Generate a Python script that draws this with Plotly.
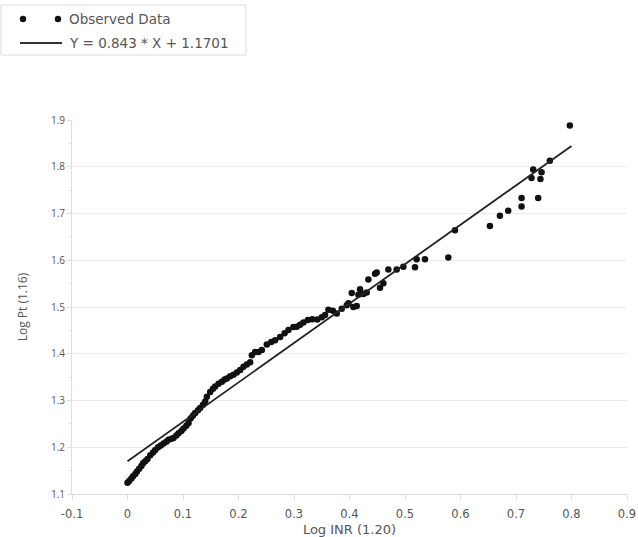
import plotly.graph_objects as go

# Observed log values
log_inr = [0.000, 0.003, 0.007, 0.010, 0.014, 0.017, 0.021, 0.025, 0.028, 0.032,
           0.036, 0.041, 0.046, 0.050, 0.055, 0.060, 0.065, 0.070, 0.074, 0.079,
           0.083, 0.088, 0.092, 0.097, 0.101, 0.106, 0.110, 0.114, 0.118, 0.122,
           0.127, 0.131, 0.136, 0.140, 0.143, 0.149, 0.154, 0.158, 0.164, 0.170,
           0.175, 0.179, 0.185, 0.191, 0.197, 0.203, 0.209, 0.215, 0.221, 0.224,
           0.230, 0.236, 0.242, 0.251, 0.259, 0.266, 0.275, 0.283, 0.290, 0.299,
           0.305, 0.311, 0.317, 0.325, 0.333, 0.342, 0.350, 0.356, 0.362, 0.370,
           0.377, 0.386, 0.395, 0.398, 0.404, 0.407, 0.413, 0.416, 0.419, 0.425,
           0.431, 0.434, 0.446, 0.449, 0.455, 0.461, 0.470, 0.485, 0.497, 0.518,
           0.521, 0.536, 0.578, 0.590, 0.653, 0.671, 0.686, 0.710, 0.710, 0.728,
           0.731, 0.740, 0.744, 0.746, 0.761, 0.797]
log_pt = [1.124, 1.128, 1.133, 1.138, 1.143, 1.148, 1.154, 1.160, 1.166, 1.170,
          1.175, 1.183, 1.189, 1.194, 1.200, 1.204, 1.208, 1.212, 1.216, 1.218,
          1.220, 1.225, 1.230, 1.235, 1.240, 1.246, 1.252, 1.262, 1.268, 1.273,
          1.279, 1.284, 1.291, 1.298, 1.308, 1.318, 1.325, 1.330, 1.336, 1.340,
          1.345, 1.347, 1.352, 1.355, 1.360, 1.365, 1.372, 1.377, 1.382, 1.397,
          1.404, 1.404, 1.408, 1.420, 1.425, 1.429, 1.436, 1.444, 1.451, 1.457,
          1.458, 1.462, 1.467, 1.472, 1.474, 1.473, 1.478, 1.483, 1.494, 1.492,
          1.486, 1.496, 1.504, 1.508, 1.530, 1.500, 1.502, 1.526, 1.538, 1.528,
          1.531, 1.559, 1.571, 1.574, 1.541, 1.551, 1.580, 1.580, 1.586, 1.585,
          1.602, 1.602, 1.606, 1.664, 1.673, 1.695, 1.706, 1.715, 1.733, 1.776,
          1.794, 1.733, 1.774, 1.788, 1.813, 1.888]

# Fitted regression line
slope = 0.843
intercept = 1.1701
fit_x = [0.0, 0.8]
fit_y = [slope * x + intercept for x in fit_x]

series_names = ["Observed Data", "Y = 0.843 * X + 1.1701"]

x_ticks = [-0.1, 0, 0.1, 0.2, 0.3, 0.4, 0.5, 0.6, 0.7, 0.8, 0.9]
x_tick_text = ["-0.1", "0", "0.1", "0.2", "0.3", "0.4", "0.5", "0.6", "0.7", "0.8", "0.9"]
y_ticks = [1.1, 1.2, 1.3, 1.4, 1.5, 1.6, 1.7, 1.8, 1.9]

wide_font = "DejaVu Sans, sans-serif"
tick_font = "Open Sans, DejaVu Sans, sans-serif"
text_color = "#555555"
mark_color = "#111111"

# plot-area geometry in pixels (used to place the key above the axes)
W, H = 638, 537
L, R, T, B = 72, 11, 120, 43
pw, ph = W - L - R, H - T - B


def px_x(px):
    return (px - L) / pw


def px_y(py):
    return (H - B - py) / ph


fig = go.Figure()
fig.add_trace(go.Scatter(
    x=log_inr, y=log_pt, mode="markers", name=series_names[0],
    marker=dict(color=mark_color, size=6.5),
))
fig.add_trace(go.Scatter(
    x=fit_x, y=fit_y, mode="lines", name=series_names[1],
    line=dict(color="#222222", width=1.8),
))

# Key box: two dots for the observations, a stroke for the fitted line
row1, row2 = px_y(19), px_y(43)
shapes = [
    dict(type="rect", xref="paper", yref="paper",
         x0=px_x(1), x1=px_x(246), y0=px_y(55), y1=px_y(5),
         line=dict(color="#dcdcdc", width=1), fillcolor="white", layer="below"),
    dict(type="line", xref="paper", yref="paper",
         x0=px_x(20), x1=px_x(62), y0=row2, y1=row2,
         line=dict(color="#333333", width=2)),
]
for cx in (23, 58):
    shapes.append(dict(type="circle", xref="paper", yref="paper",
                       xsizemode="pixel", ysizemode="pixel",
                       xanchor=px_x(cx), yanchor=row1,
                       x0=-3.2, x1=3.2, y0=-3.2, y1=3.2,
                       fillcolor=mark_color, line=dict(width=0)))

annotations = [
    dict(text=series_names[0], xref="paper", yref="paper", x=px_x(67), y=row1,
         xanchor="left", yanchor="middle", showarrow=False,
         font=dict(family=wide_font, size=13.5, color=text_color)),
    dict(text=series_names[1], xref="paper", yref="paper", x=px_x(67), y=row2,
         xanchor="left", yanchor="middle", showarrow=False,
         font=dict(family=wide_font, size=13.5, color=text_color)),
]

fig.update_layout(
    width=W, height=H,
    margin=dict(l=L, r=R, t=T, b=B),
    paper_bgcolor="white", plot_bgcolor="white",
    font=dict(family=tick_font, color=text_color, size=11),
    showlegend=False,
    shapes=shapes,
    annotations=annotations,
    xaxis=dict(
        range=[-0.1, 0.9], tickvals=x_ticks, ticktext=x_tick_text,
        automargin=False,
        showgrid=False, zeroline=False,
        showline=True, linecolor="#dddddd", linewidth=1,
        ticks="outside", ticklen=5, tickcolor="#dddddd",
        ticklabelstandoff=4,
        tickfont=dict(family=wide_font, size=11.5, color=text_color),
        title=dict(text="Log INR (1.20)", font=dict(family=wide_font, size=13, color=text_color),
                   standoff=5),
    ),
    yaxis=dict(
        range=[1.1, 1.9], tickvals=y_ticks, tickformat=".1f",
        automargin=False,
        showgrid=True, gridcolor="#ebebeb", gridwidth=1, zeroline=False,
        showline=True, linecolor="#dddddd", linewidth=1,
        ticks="outside", ticklen=4, tickcolor="#dddddd",
        minor=dict(dtick=0.05, ticks="outside", ticklen=3, tickcolor="#e4e4e4", showgrid=False),
        tickfont=dict(size=10, color=text_color),
        title=dict(text="Log Pt (1.16)", font=dict(size=12, color=text_color), standoff=20),
    ),
)

fig.write_html("out.html")
